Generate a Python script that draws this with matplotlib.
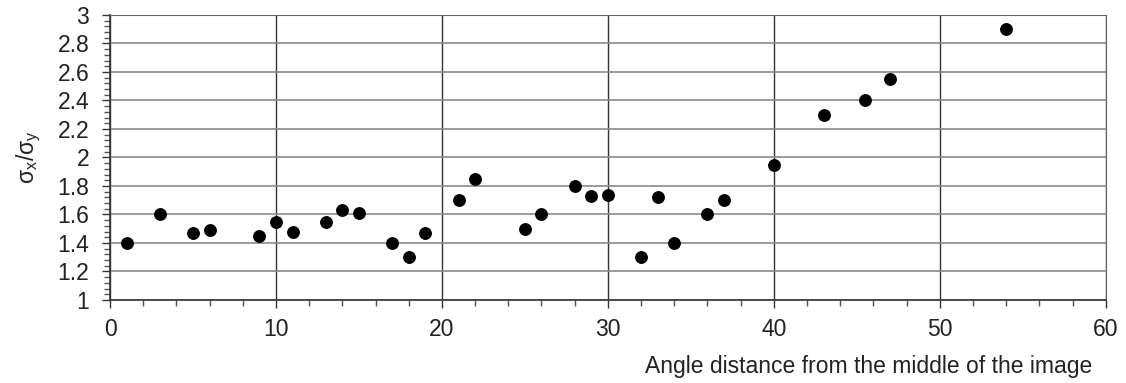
import matplotlib
matplotlib.use("Agg")
import matplotlib.pyplot as plt
from matplotlib.ticker import MultipleLocator

# angle distance (x) vs sigma_x / sigma_y ratio (y)
angle = [1, 3, 5, 6, 9, 10, 11, 13, 14, 15, 17, 18, 19, 21, 22, 25, 26,
         28, 29, 30, 32, 33, 34, 36, 37, 40, 43, 45.5, 47, 54]
ratio = [1.40, 1.60, 1.47, 1.49, 1.45, 1.55, 1.48, 1.55, 1.63, 1.61, 1.40,
         1.30, 1.47, 1.70, 1.85, 1.50, 1.60, 1.80, 1.73, 1.74, 1.30, 1.72,
         1.40, 1.60, 1.70, 1.95, 2.30, 2.40, 2.55, 2.90]
x_ticks = [0, 10, 20, 30, 40, 50, 60]
y_ticks = [1, 1.2, 1.4, 1.6, 1.8, 2, 2.2, 2.4, 2.6, 2.8, 3]

plt.rcParams['font.family'] = ['Liberation Sans', 'DejaVu Sans']

fig = plt.figure(figsize=(11.26, 3.83), dpi=100)
ax = fig.add_axes([0.0977, 0.2167, 0.8843, 0.7443])

ax.scatter(angle, ratio, s=68, color='black', zorder=3)

ax.set_xlim(0, 60)
ax.set_ylim(1, 3)
ax.set_xticks(x_ticks)
ax.set_xticklabels([str(t) for t in x_ticks])
ax.set_yticks(y_ticks)
ax.set_yticklabels([f"{t:g}" for t in y_ticks])
ax.xaxis.set_minor_locator(MultipleLocator(2))
ax.yaxis.set_minor_locator(MultipleLocator(0.04))

ax.grid(True, which='major', axis='y', color='#8a8a8a', linewidth=1.2)
ax.grid(True, which='major', axis='x', color='#333333', linewidth=1.0)
ax.set_axisbelow(True)

ax.tick_params(axis='both', which='major', direction='out', length=6,
               width=1, labelsize=16.5, color='#333333', labelcolor='#222222')
ax.tick_params(axis='both', which='minor', direction='out', length=4,
               width=1, color='#555555')
ax.tick_params(axis='x', pad=7)
ax.tick_params(axis='y', pad=9)

for side in ['top', 'right']:
    ax.spines[side].set_color('#666666')
for side in ['left', 'bottom']:
    ax.spines[side].set_color('#333333')
    ax.spines[side].set_linewidth(1.2)

ax.set_ylabel(r'$\mathregular{\sigma_x/\sigma_y}$', fontsize=16.5,
              labelpad=10, color='#222222')
fig.text(0.970, 0.042, 'Angle distance from the middle of the image',
         fontsize=16.5, ha='right', va='center', color='#222222')

plt.savefig('out.png', dpi=100)
plt.close()
